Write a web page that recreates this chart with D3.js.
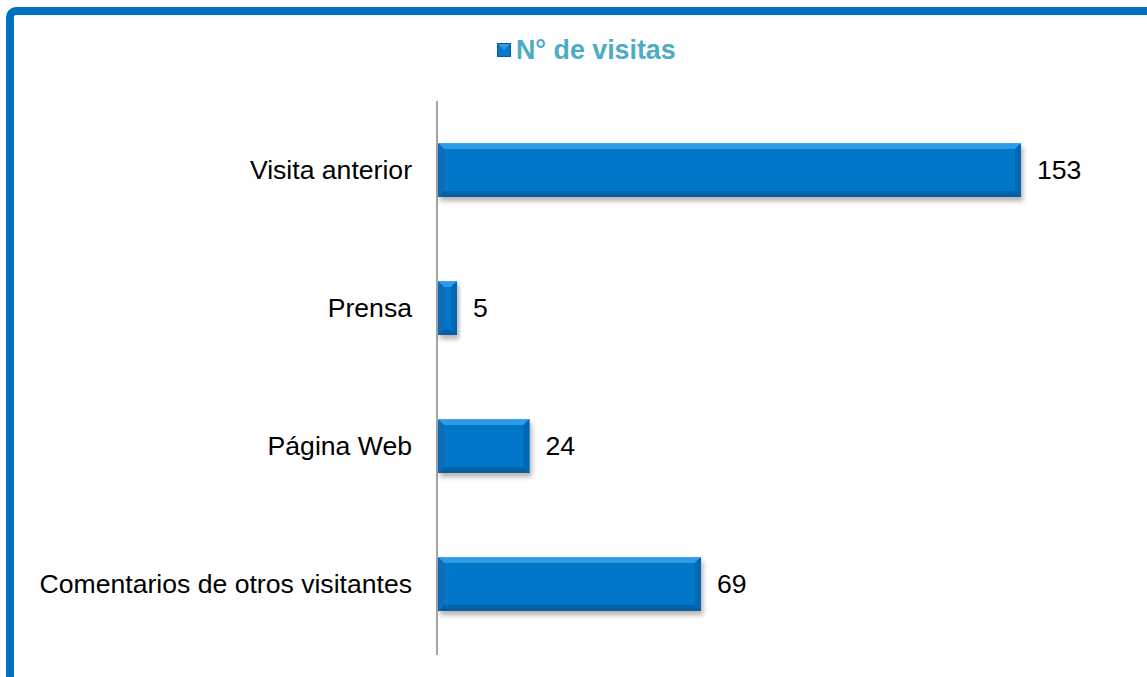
<!DOCTYPE html>
<html><head><meta charset="utf-8">
<script src="https://cdn.jsdelivr.net/npm/d3@7/dist/d3.min.js"></script>
<style>html,body{margin:0;padding:0;background:#fff;}svg{display:block;}</style>
</head><body>
<script>
const categories = ["Visita anterior", "Prensa", "Página Web", "Comentarios de otros visitantes"];
const values = [153, 5, 24, 69];
const seriesName = "N° de visitas";

const W = 1147, H = 677;
const svg = d3.select("body").append("svg").attr("width", W).attr("height", H);
const defs = svg.append("defs");
const f = defs.append("filter").attr("id","sh").attr("x","-10%").attr("y","-20%").attr("width","130%").attr("height","160%");
f.append("feDropShadow").attr("dx",2).attr("dy",4).attr("stdDeviation",2.5).attr("flood-color","#000").attr("flood-opacity",0.3);

// frame
svg.append("rect").attr("x",10).attr("y",11).attr("width",1200).attr("height",720)
  .attr("rx",6).attr("fill","none").attr("stroke","#0070C0").attr("stroke-width",8);

const x0 = 438;
const x = d3.scaleLinear().domain([0, 153]).range([x0, 1021]);
const y = d3.scaleBand().domain(categories).range([101, 653]).paddingInner(0.61).paddingOuter(0.305);

// axis line
svg.append("line").attr("x1",437).attr("x2",437).attr("y1",101).attr("y2",655)
  .attr("stroke","#868686").attr("stroke-width",1.5);

const bw = 6;
const g = svg.selectAll("g.bar").data(categories).join("g").attr("class","bar");
g.each(function(c, i){
  const sel = d3.select(this);
  const xa = x(0), xb = x(values[i]), ya = y(c), yb = y(c) + y.bandwidth();
  const b = Math.min(bw, (xb-xa)/2);
  const grp = sel.append("g").attr("filter","url(#sh)");
  grp.append("rect").attr("x",xa).attr("y",ya).attr("width",xb-xa).attr("height",yb-ya).attr("fill","#0677C9");
  grp.append("polygon").attr("points",[[xa,ya],[xb,ya],[xb-b,ya+b],[xa+b,ya+b]].join(" ")).attr("fill","#2E9BE6");
  grp.append("polygon").attr("points",[[xa,ya],[xa+b,ya+b],[xa+b,yb-b],[xa,yb]].join(" ")).attr("fill","#0A6DB8");
  grp.append("polygon").attr("points",[[xa,yb],[xa+b,yb-b],[xb-b,yb-b],[xb,yb]].join(" ")).attr("fill","#0462A8");
  grp.append("polygon").attr("points",[[xb,ya],[xb,yb],[xb-b,yb-b],[xb-b,ya+b]].join(" ")).attr("fill","#0568B2");
  grp.append("line").attr("x1",xa).attr("x2",xb).attr("y1",ya+0.5).attr("y2",ya+0.5).attr("stroke","#3FA6EE").attr("stroke-width",1);
  grp.append("line").attr("x1",xa).attr("x2",xb).attr("y1",yb-0.5).attr("y2",yb-0.5).attr("stroke","#1F5A8A").attr("stroke-width",1);
});

// category labels
svg.selectAll("text.cat").data(categories).join("text").attr("class","cat")
  .attr("x",412).attr("y",d => y(d) + y.bandwidth()/2).attr("dy","0.35em")
  .attr("text-anchor","end").attr("font-family","Liberation Sans, Arial, sans-serif")
  .attr("font-size",26.6).attr("fill","#000").text(d => d);

// value labels
svg.selectAll("text.val").data(values).join("text").attr("class","val")
  .attr("x",d => x(d) + 16).attr("y",(d,i) => y(categories[i]) + y.bandwidth()/2).attr("dy","0.35em")
  .attr("font-family","Liberation Sans, Arial, sans-serif")
  .attr("font-size",26.6).attr("fill","#000").text(d => d);

// legend
const lg = svg.append("g");
lg.append("rect").attr("x",497.5).attr("y",43.5).attr("width",13).attr("height",13).attr("fill","#0677C9").attr("stroke","#0A5A98").attr("stroke-width",1);
lg.append("polygon").attr("points","498,44 510,44 504,50").attr("fill","#2E9BE6");
lg.append("text").attr("x",516).attr("y",50).attr("dy","0.35em")
  .attr("font-family","Liberation Sans, Arial, sans-serif").attr("font-weight","bold")
  .attr("font-size",26.8).attr("fill","#4BACC6").text(seriesName);
</script>
</body></html>
